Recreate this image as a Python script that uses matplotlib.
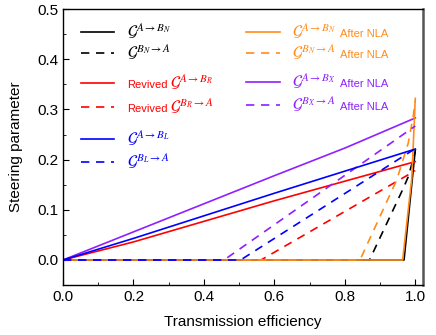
import numpy as np
import matplotlib
matplotlib.use("Agg")
import matplotlib.pyplot as plt
from matplotlib.lines import Line2D
from matplotlib.ticker import MultipleLocator

plt.rcParams['font.family'] = ['Liberation Sans', 'DejaVu Sans']
plt.rcParams['mathtext.fontset'] = 'stix'

# data (transmission efficiency -> steering parameter)
eta_n_ab = [0.0, 0.968, 1.0]
g_n_ab = [0.0, 0.0, 0.22]
eta_n_ba = [0.0, 0.87, 0.966, 0.98, 1.0]
g_n_ba = [0.0, 0.0, 0.143, 0.166, 0.216]

eta_r_ab = [0.0, 0.2, 0.4, 0.6, 0.8, 1.0]
g_r_ab = [0.0, 0.036, 0.077, 0.118, 0.157, 0.196]
eta_r_ba = [0.0, 0.562, 1.0]
g_r_ba = [0.0, 0.0, 0.178]

eta_l_ab = [0.0, 0.2, 0.4, 0.6, 0.8, 1.0]
g_l_ab = [0.0, 0.043, 0.088, 0.133, 0.177, 0.221]
eta_l_ba = [0.0, 0.504, 1.0]
g_l_ba = [0.0, 0.0, 0.222]

eta_nla_n_ab = [0.0, 0.964, 0.99, 1.0]
g_nla_n_ab = [0.0, 0.0, 0.163, 0.322]
eta_nla_n_ba = [0.0, 0.843, 0.947, 0.98, 0.994, 1.0]
g_nla_n_ba = [0.0, 0.0, 0.159, 0.233, 0.286, 0.318]

eta_nla_x_ab = [0.0, 0.2, 0.4, 0.6, 0.8, 1.0]
g_nla_x_ab = [0.0, 0.056, 0.112, 0.168, 0.223, 0.283]
eta_nla_x_ba = [0.0, 0.457, 1.0]
g_nla_x_ba = [0.0, 0.0, 0.267]

BLACK = '#000000'
RED = '#ff0000'
BLUE = '#0000ff'
ORANGE = '#ff8c1a'
PURPLE = '#8f1fff'

fig = plt.figure(figsize=(4.36, 3.35), dpi=100)
ax = fig.add_axes([0.1445, 0.149, 0.825, 0.824])

lw = 1.2
dash = (0, (5, 4))
ax.plot(eta_n_ab, g_n_ab, color=BLACK, lw=lw)
ax.plot(eta_n_ba, g_n_ba, color=BLACK, lw=lw, ls=dash)
ax.plot(eta_r_ab, g_r_ab, color=RED, lw=lw)
ax.plot(eta_r_ba, g_r_ba, color=RED, lw=lw, ls=dash)
ax.plot(eta_nla_x_ab, g_nla_x_ab, color=PURPLE, lw=lw)
ax.plot(eta_nla_n_ab, g_nla_n_ab, color=ORANGE, lw=lw)
ax.plot(eta_nla_n_ba, g_nla_n_ba, color=ORANGE, lw=lw, ls=dash)
ax.plot(eta_nla_x_ba, g_nla_x_ba, color=PURPLE, lw=lw, ls=dash)
ax.plot(eta_l_ab, g_l_ab, color=BLUE, lw=lw)
ax.plot(eta_l_ba, g_l_ba, color=BLUE, lw=lw, ls=dash)

ax.set_xlim(0, 1.021)
ax.set_ylim(-0.05, 0.5)
ax.xaxis.set_major_locator(MultipleLocator(0.2))
ax.xaxis.set_minor_locator(MultipleLocator(0.1))
ax.yaxis.set_major_locator(MultipleLocator(0.1))
ax.yaxis.set_minor_locator(MultipleLocator(0.05))
ax.xaxis.set_major_formatter(plt.FormatStrFormatter('%.1f'))
ax.yaxis.set_major_formatter(plt.FormatStrFormatter('%.1f'))
ax.tick_params(which='both', direction='in', labelsize=11)
ax.tick_params(which='major', length=4)
ax.tick_params(which='minor', length=2)
for s in ax.spines.values():
    s.set_linewidth(1.0)
ax.spines['right'].set_color('#555555')
ax.spines['right'].set_linewidth(1.8)
ax.set_xlabel('Transmission efficiency', fontsize=11, labelpad=8)
ax.set_ylabel('Steering parameter', fontsize=11, labelpad=10)

# legend drawn by hand: (colour, style, prefix, math, suffix, x0, y)
legend_rows = [
    (BLACK, '-', '', r'$\mathcal{G}^{A\rightarrow B_N}$', '', 0.049, 0.918),
    (BLACK, dash, '', r'$\mathcal{G}^{B_N\rightarrow A}$', '', 0.049, 0.840),
    (RED, '-', 'Revived', r'$\mathcal{G}^{A\rightarrow B_R}$', '', 0.049, 0.732),
    (RED, dash, 'Revived', r'$\mathcal{G}^{B_R\rightarrow A}$', '', 0.049, 0.646),
    (BLUE, '-', '', r'$\mathcal{G}^{A\rightarrow B_L}$', '', 0.049, 0.530),
    (BLUE, dash, '', r'$\mathcal{G}^{B_L\rightarrow A}$', '', 0.049, 0.447),
    (ORANGE, '-', '', r'$\mathcal{G}^{A\rightarrow B_N}$', 'After NLA', 0.509, 0.918),
    (ORANGE, dash, '', r'$\mathcal{G}^{B_N\rightarrow A}$', 'After NLA', 0.509, 0.840),
    (PURPLE, '-', '', r'$\mathcal{G}^{A\rightarrow B_X}$', 'After NLA', 0.509, 0.737),
    (PURPLE, dash, '', r'$\mathcal{G}^{B_X\rightarrow A}$', 'After NLA', 0.509, 0.652),
]
key_len = 0.094
base_off = 0.018
for color, style, prefix, math, suffix, x0, y in legend_rows:
    ax.add_line(Line2D([x0, x0 + key_len], [y, y], color=color, lw=lw, ls=style,
                       transform=ax.transAxes))
    xt = x0 + 0.128
    if prefix:
        ax.text(xt, y - base_off, prefix, transform=ax.transAxes, color=color,
                fontsize=8, va='baseline', ha='left')
        xt += 0.12
    ax.text(xt, y - base_off, math, transform=ax.transAxes, color=color,
            fontsize=11.5, va='baseline', ha='left')
    if suffix:
        ax.text(xt + 0.132, y - base_off, suffix, transform=ax.transAxes,
                color=color, fontsize=8, va='baseline', ha='left')

fig.savefig('out.png', dpi=100)
